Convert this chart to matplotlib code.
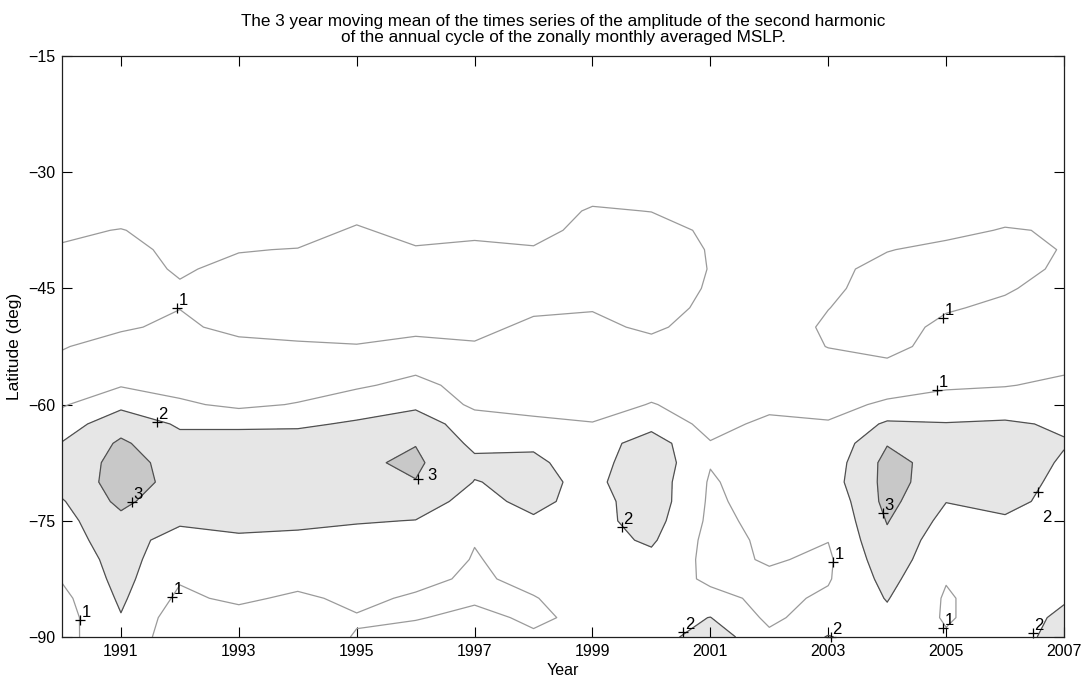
import numpy as np
import matplotlib
matplotlib.use("Agg")
import matplotlib.pyplot as plt

plt.rcParams['font.family'] = ['Liberation Sans', 'DejaVu Sans']

years = list(range(1990, 2008))
lats = [-90, -87.5, -85, -82.5, -80, -77.5, -75, -72.5, -70, -67.5, -65, -62.5,
        -60, -57.5, -55, -52.5, -50, -47.5, -45, -42.5, -40, -37.5, -35, -32.5,
        -25, -15]

# amplitude values, one list per year (from -90 up to -15)
amp_1990 = [0.83, 0.6, 0.74, 1.07, 1.3, 1.5, 1.7, 1.92, 2.42, 2.3, 2.04, 1.54, 0.9, 0.7, 0.75, 1.06, 1.3, 1.4, 1.4, 1.3, 1.1, 0.82, 0.7, 0.6, 0.5, 0.4]
amp_1991 = [1.4, 1.95, 2.15, 2.3, 2.4, 2.6, 2.74, 3.24, 3.35, 3.35, 3.15, 2.6, 1.77, 0.93, 0.7, 0.62, 1.12, 1.35, 1.45, 1.4, 1.3, 1.04, 0.54, 0.5, 0.45, 0.4]
amp_1992 = [0.65, 0.45, 0.8, 1.09, 1.3, 1.41, 2.23, 2.3, 2.75, 2.65, 2.3, 1.88, 1.16, 0.66, 0.6, 0.65, 0.8, 1.02, 1.1, 0.89, 0.75, 0.6, 0.5, 0.45, 0.4, 0.35]
amp_1993 = [0.5, 0.6, 1.2, 1.35, 1.5, 1.8, 2.36, 2.45, 2.5, 2.5, 2.4, 1.84, 0.79, 0.6, 0.55, 0.7, 1.3, 1.4, 1.4, 1.25, 0.95, 0.7, 0.55, 0.5, 0.4, 0.35]
amp_1994 = [0.5, 0.55, 0.8, 1.36, 1.5, 1.75, 2.23, 2.4, 2.5, 2.5, 2.4, 1.87, 1.06, 0.56, 0.5, 0.9, 1.26, 1.4, 1.45, 1.35, 1.04, 0.54, 0.5, 0.45, 0.4, 0.35]
amp_1995 = [1.06, 0.92, 1.25, 1.4, 1.55, 1.7, 2.06, 2.4, 2.5, 2.85, 2.5, 2.1, 1.6, 0.85, 0.7, 0.95, 1.37, 1.5, 1.55, 1.5, 1.4, 1.14, 0.64, 0.55, 0.45, 0.4]
amp_1996 = [1.3, 0.95, 0.85, 1.32, 1.5, 1.7, 1.98, 2.4, 2.97, 3.15, 2.97, 2.5, 1.81, 1.3, 0.72, 0.8, 1.18, 1.4, 1.5, 1.45, 1.1, 0.6, 0.5, 0.45, 0.4, 0.35]
amp_1997 = [1.4, 1.2, 0.89, 0.8, 0.95, 1.03, 1.5, 1.7, 1.97, 2.2, 1.78, 1.5, 0.81, 0.6, 0.55, 0.9, 1.26, 1.4, 1.45, 1.35, 1.2, 0.78, 0.6, 0.5, 0.45, 0.4]
amp_1998 = [1.1, 0.87, 0.94, 1.33, 1.3, 1.5, 1.88, 2.25, 2.2, 2.15, 1.88, 1.3, 0.55, 0.5, 0.5, 0.6, 0.8, 1.16, 1.35, 1.3, 1.1, 0.6, 0.55, 0.5, 0.45, 0.4]
amp_1999 = [1.4, 1.2, 1.6, 1.6, 1.6, 1.65, 1.7, 1.6, 1.8, 1.6, 1.5, 1.05, 0.55, 0.5, 0.45, 0.55, 0.7, 1.075, 1.3, 1.45, 1.5, 1.4, 1.1, 0.68, 0.5, 0.4]
amp_2000 = [1.45, 1.6, 1.6, 1.65, 1.75, 2.14, 2.4, 2.6, 2.6, 2.7, 2.5, 1.67, 1.05, 0.63, 0.5, 0.6, 1.225, 1.4, 1.5, 1.5, 1.45, 1.35, 0.98, 0.7, 0.5, 0.4]
amp_2001 = [2.6, 2.02, 1.3, 0.8, 0.75, 0.7, 0.8, 0.85, 0.9, 1.05, 1.05, 0.7, 0.6, 0.55, 0.5, 0.45, 0.45, 0.785, 0.91, 0.97, 0.95, 0.85, 0.7, 0.6, 0.5, 0.4]
amp_2002 = [1.2, 0.8, 0.75, 0.85, 1.08, 1.15, 1.22, 1.35, 1.5, 1.4, 1.35, 1.2, 0.78, 0.6, 0.5, 0.45, 0.45, 0.5, 0.55, 0.6, 0.6, 0.55, 0.5, 0.45, 0.4, 0.35]
amp_2003 = [2.05, 1.5, 1.15, 0.92, 0.85, 1.02, 1.1, 1.2, 1.52, 1.4, 1.22, 1.1, 0.6, 0.5, 0.6, 1.03, 1.15, 0.98, 0.8, 0.7, 0.6, 0.55, 0.5, 0.45, 0.4, 0.35]
amp_2004 = [1.5, 1.8, 2.05, 2.3, 2.6, 2.8, 3.05, 3.3, 3.3, 3.3, 2.95, 2.15, 1.2, 0.5, 0.8, 1.3, 1.45, 1.5, 1.45, 1.35, 0.95, 0.7, 0.55, 0.5, 0.45, 0.4]
amp_2005 = [1.1, 0.9, 0.9, 1.05, 1.2, 1.4, 1.7, 2.02, 2.55, 2.6, 2.5, 2.03, 1.6, 0.81, 0.5, 0.6, 0.75, 1.1, 1.35, 1.45, 1.3, 0.675, 0.55, 0.5, 0.45, 0.4]
amp_2006 = [1.4, 1.5, 1.5, 1.55, 1.6, 1.7, 1.85, 2.32, 2.45, 2.5, 2.45, 2.1, 1.6, 0.95, 0.6, 0.5, 0.6, 0.8, 1.11, 1.3, 1.35, 1.08, 0.58, 0.5, 0.45, 0.4]
amp_2007 = [2.5, 2.2, 1.9, 1.7, 1.6, 1.6, 1.6, 1.6, 1.75, 1.9, 2.05, 1.9, 1.5, 1.2, 0.815, 0.6, 0.5, 0.5, 0.6, 0.86, 0.95, 0.9, 0.7, 0.55, 0.45, 0.4]

levels = [1, 2, 3]

# contour labels (position of '+' marker and text)
label_x = [1990.31, 1991.95, 1991.61, 1991.19, 1991.87, 1996.04, 1999.50, 2000.54,
           2003.08, 2003.05, 2004.95, 2004.85, 2003.93, 2006.56, 2004.95, 2006.47]
label_y = [-87.8, -47.5, -62.25, -72.6, -84.8, -69.6, -75.8, -89.4,
           -80.3, -89.95, -48.8, -58.1, -74.0, -71.3, -88.8, -89.5]
label_txt = ['1', '1', '2', '3', '1', '3', '2', '2', '1', '2', '1', '1', '3', '2', '1', '2']
label_off = [(1, 0), (1, 0), (1, 0), (1, 0), (1, 0), (7, -3), (1, 0), (1, 0),
             (1, 0), (1, 0), (1, 0), (1, 0), (1, 0), (3, -24), (1, 0), (1, 0)]

amp = np.array([amp_1990, amp_1991, amp_1992, amp_1993, amp_1994, amp_1995,
                amp_1996, amp_1997, amp_1998, amp_1999, amp_2000, amp_2001,
                amp_2002, amp_2003, amp_2004, amp_2005, amp_2006, amp_2007]).T

fig = plt.figure(figsize=(10.88, 6.81), dpi=100)
ax = fig.add_axes([62 / 1088, 1 - 637 / 681, (1064 - 62) / 1088, (637 - 56) / 681])

X, Y = np.meshgrid(years, lats)
ax.contourf(X, Y, amp, levels=[2, 3, 10], colors=['#e6e6e6', '#c8c8c8'])
ax.contour(X, Y, amp, levels=[1], colors=['#9a9a9a'], linewidths=0.9)
ax.contour(X, Y, amp, levels=[2, 3], colors=['#505050'], linewidths=0.9)

for x, y, t, off in zip(label_x, label_y, label_txt, label_off):
    ax.plot([x], [y], marker='+', color='black', ms=7, mew=0.9, clip_on=False)
    ax.annotate(t, (x, y), xytext=off, textcoords='offset points',
                ha='left', va='bottom', fontsize=12, color='black')

ax.set_xlim(1990, 2007)
ax.set_ylim(-90, -15)
ax.set_xticks(list(range(1991, 2008, 2)))
ax.set_yticks([-90, -75, -60, -45, -30, -15])
ax.tick_params(direction='in', length=7, width=0.8, top=True, right=True,
               labelsize=11.5, pad=5)
for s in ax.spines.values():
    s.set_linewidth(0.9)
    s.set_color('#202020')

ax.set_xlabel('Year', fontsize=11.5, labelpad=3)
ax.set_ylabel('Latitude (deg)', fontsize=12.5, labelpad=4)
ax.set_title('The 3 year moving mean of the times series of the amplitude of the second harmonic\n'
             'of the annual cycle of the zonally monthly averaged MSLP.',
             fontsize=12.3, pad=10, linespacing=1.1)

fig.savefig('out.png', dpi=100, facecolor='white')
